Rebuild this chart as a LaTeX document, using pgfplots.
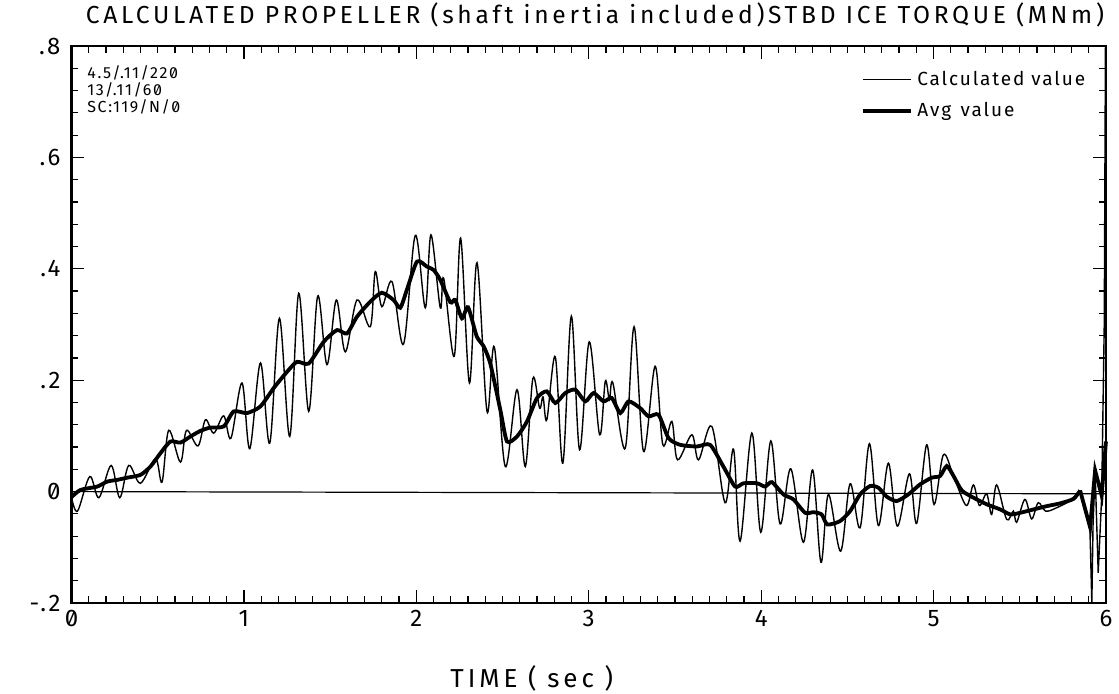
\documentclass[border=0pt]{standalone}
\usepackage{fontspec}
\setmainfont{Fira Sans}[Numbers=SlashedZero]
\newfontfamily\plotfont{Fira Sans}[Numbers=SlashedZero, LetterSpace=10]
\newfontfamily\titlefont{Fira Sans}[Numbers=SlashedZero, LetterSpace=15]
\usepackage{pgfplots}
\pgfplotsset{compat=1.18}

\begin{document}
\begin{tikzpicture}
\begin{axis}[
  scale only axis, width=517.25pt, height=278.5pt,
  clip=false,
  xmin=0, xmax=6, ymin=-0.2, ymax=0.8,
  xtick={0,...,6}, xticklabels={0,1,2,3,4,5,6},
  minor x tick num=9,
  ytick={-0.2,0,0.2,0.4,0.6,0.8}, yticklabels={-.2,0,.2,.4,.6,.8},
  minor y tick num=4,
  major tick length=6.5pt, minor tick length=3.5pt,
  tick style={black, line width=0.6pt},
  axis line style={line width=1.1pt},
  tick label style={font=\plotfont\fontsize{12}{14}\selectfont},
  yticklabel style={xshift=-2pt},
  legend style={draw=none, fill=none, at={(rel axis cs:0.99,0.97)}, anchor=north east,
    font=\plotfont\fontsize{9.5}{11}\selectfont, row sep=3pt},
  legend cell align=left,
  legend image code/.code={\draw[#1] (0pt,0pt) -- (24pt,0pt);},
]
% zero reference line
\addplot[black, line width=0.6pt, forget plot] coordinates {(0,0) (6,-0.004)};

% calculated value (thin, oscillating)
\addplot[black, line width=0.7pt, smooth, tension=0.55] coordinates {
(0.000,-0.010) (0.035,-0.035) (0.106,0.027) (0.159,-0.011) (0.230,0.047) (0.280,-0.011)
(0.332,0.047) (0.400,0.015) (0.487,0.059) (0.525,0.017) (0.564,0.110) (0.632,0.053)
(0.667,0.110) (0.734,0.082) (0.777,0.129) (0.825,0.105) (0.883,0.136) (0.925,0.096)
(0.989,0.195) (1.034,0.077) (1.096,0.231) (1.150,0.087) (1.206,0.311) (1.266,0.099)
(1.318,0.356) (1.376,0.144) (1.428,0.351) (1.482,0.228) (1.536,0.344) (1.588,0.251)
(1.656,0.344) (1.733,0.296) (1.762,0.395) (1.800,0.332) (1.859,0.377) (1.926,0.265)
(1.994,0.460) (2.052,0.330) (2.085,0.461) (2.139,0.330) (2.159,0.383) (2.220,0.243)
(2.257,0.455) (2.308,0.195) (2.352,0.411) (2.410,0.144) (2.452,0.260) (2.516,0.045)
(2.584,0.183) (2.632,0.045) (2.676,0.203) (2.715,0.150) (2.735,0.170) (2.757,0.129)
(2.806,0.242) (2.850,0.051) (2.899,0.315) (2.947,0.075) (3.003,0.269) (3.063,0.102)
(3.096,0.198) (3.120,0.165) (3.140,0.195) (3.212,0.078) (3.263,0.296) (3.318,0.072)
(3.385,0.225) (3.430,0.084) (3.482,0.126) (3.515,0.057) (3.598,0.102) (3.637,0.057)
(3.714,0.117) (3.791,-0.020) (3.840,0.076) (3.878,-0.089) (3.946,0.105) (3.998,-0.073)
(4.056,0.091) (4.110,-0.058) (4.172,0.041) (4.245,-0.091) (4.299,0.039) (4.347,-0.127)
(4.390,-0.005) (4.461,-0.107) (4.516,0.014) (4.574,-0.065) (4.628,0.086) (4.680,-0.061)
(4.738,0.051) (4.790,-0.062) (4.860,0.032) (4.902,-0.057) (4.960,0.084) (5.003,-0.023)
(5.057,0.066) (5.116,0.028) (5.190,-0.025) (5.231,0.012) (5.266,-0.025) (5.308,-0.004)
(5.337,-0.041) (5.366,0.012) (5.424,-0.050) (5.463,-0.035) (5.482,-0.055) (5.530,-0.014)
(5.569,-0.049) (5.607,-0.020) (5.650,-0.035) (5.714,-0.029) (5.811,-0.013) (5.849,0.002)
};
\addlegendentry{Calculated value}

% moving average (thick)
\addplot[black, line width=1.9pt, smooth, tension=0.4] coordinates {
(0.000,-0.010) (0.052,0.003) (0.149,0.009) (0.207,0.018) (0.265,0.021) (0.323,0.025)
(0.400,0.030) (0.458,0.045) (0.516,0.069) (0.574,0.090) (0.632,0.088) (0.690,0.099)
(0.748,0.109) (0.806,0.115) (0.883,0.117) (0.941,0.144) (1.018,0.141) (1.096,0.153)
(1.173,0.186) (1.250,0.215) (1.308,0.233) (1.376,0.230) (1.463,0.269) (1.540,0.290)
(1.598,0.284) (1.656,0.314) (1.733,0.341) (1.800,0.357) (1.868,0.344) (1.907,0.330)
(1.945,0.362) (2.004,0.413) (2.061,0.404) (2.100,0.398) (2.139,0.380) (2.197,0.340)
(2.226,0.344) (2.265,0.311) (2.300,0.331) (2.350,0.279) (2.390,0.261) (2.429,0.230)
(2.487,0.147) (2.526,0.090) (2.584,0.099) (2.642,0.126) (2.700,0.168) (2.757,0.180)
(2.806,0.159) (2.864,0.177) (2.922,0.183) (2.980,0.162) (3.028,0.177) (3.086,0.162)
(3.134,0.168) (3.183,0.141) (3.231,0.162) (3.298,0.150) (3.347,0.135) (3.405,0.138)
(3.463,0.096) (3.530,0.084) (3.627,0.081) (3.704,0.084) (3.781,0.045) (3.849,0.009)
(3.898,0.015) (3.975,0.015) (4.023,0.009) (4.062,0.017) (4.129,-0.005) (4.187,-0.014)
(4.255,-0.038) (4.303,-0.037) (4.351,-0.041) (4.384,-0.059) (4.457,-0.053) (4.516,-0.035)
(4.574,-0.005) (4.632,0.010) (4.680,0.007) (4.728,-0.009) (4.786,-0.017) (4.854,-0.005)
(4.922,0.013) (4.990,0.025) (5.038,0.028) (5.077,0.046) (5.116,0.028) (5.164,0.002)
(5.232,-0.011) (5.310,-0.023) (5.387,-0.032) (5.445,-0.041) (5.503,-0.038) (5.580,-0.032)
(5.658,-0.026) (5.735,-0.021) (5.812,-0.013) (5.850,0.002)
};
\addlegendentry{Avg\enspace value}

% sharp tail at the end of the record
\addplot[black, line width=0.7pt, forget plot] coordinates {
(5.849,0.002) (5.907,-0.068) (5.918,-0.200) (5.925,-0.060) (5.937,0.036)
(5.955,-0.146) (5.975,-0.010) (5.990,0.300) (5.997,0.800)
};
\addplot[black, line width=1.9pt, forget plot] coordinates {
(5.850,0.002) (5.908,-0.064) (5.937,0.038) (5.975,-0.007) (6.000,0.090)
};

\node[anchor=north west, align=left, font=\plotfont\fontsize{8}{8.5}\selectfont, inner sep=0pt]
  at (rel axis cs:0.015,0.965) {4.5/.11/220\\13/.11/60\\SC:119/N/0};
\node[font=\titlefont\fontsize{12.3}{14}\selectfont] at (rel axis cs:0.506,1.056)
  {CALCULATED PROPELLER (shaft inertia included)STBD ICE TORQUE (MNm)};
\node[font=\titlefont\fontsize{13}{15}\selectfont] at (rel axis cs:0.445,-0.135)
  {TIME ( sec )};

\coordinate (bbsw) at (rel axis cs:-0.0691,-0.1616);
\coordinate (bbne) at (rel axis cs:1.0126,1.0826);
\end{axis}
\pgfresetboundingbox
\useasboundingbox (bbsw) rectangle (bbne);
\end{tikzpicture}
\end{document}
